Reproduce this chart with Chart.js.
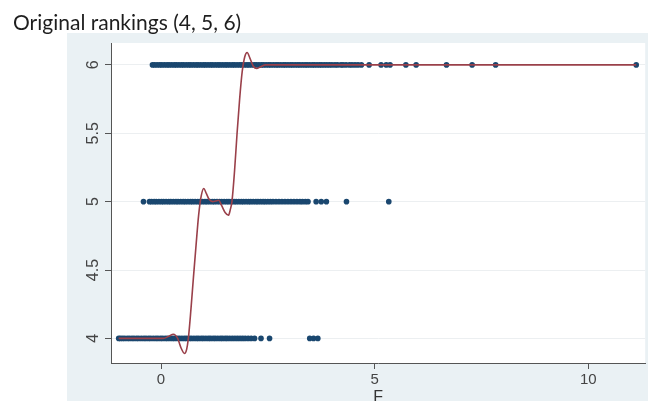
<!DOCTYPE html>
<html><head><meta charset="utf-8">
<script src="https://cdn.jsdelivr.net/npm/chart.js@4/dist/chart.umd.min.js"></script>
<style>html,body{margin:0;padding:0;background:#fff}canvas{display:block}</style>
</head><body>
<canvas id="c" width="648" height="401"></canvas>
<script>
// Rank levels (y values of the three rows)
const rankLevels = [4, 5, 6];

const fRank4 = [-0.99,-0.95,-0.90,-0.85,-0.79,-0.74,-0.68,-0.63,-0.57,-0.52,-0.46,-0.40,-0.35,-0.29,-0.24,-0.18,-0.12,-0.07,-0.01,0.04,0.10,0.15,0.21,0.27,0.32,0.38,0.43,0.49,0.55,0.60,0.66,0.71,0.77,0.83,0.88,0.94,0.99,1.05,1.11,1.16,1.22,1.27,1.33,1.39,1.44,1.50,1.55,1.61,1.67,1.73,1.79,1.85,1.91,1.97,2.04,2.11,2.19,2.34,2.54,3.48,3.57,3.67];
const fRank5 = [-0.41,-0.27,-0.22,-0.16,-0.11,-0.05,0.01,0.06,0.12,0.18,0.23,0.29,0.35,0.40,0.46,0.52,0.57,0.63,0.69,0.74,0.80,0.86,0.91,0.97,1.03,1.08,1.14,1.20,1.25,1.31,1.37,1.42,1.48,1.54,1.59,1.65,1.71,1.76,1.82,1.88,1.93,1.99,2.05,2.10,2.16,2.22,2.27,2.33,2.39,2.44,2.50,2.56,2.62,2.69,2.76,2.83,2.90,2.97,3.04,3.11,3.18,3.25,3.31,3.38,3.44,3.63,3.75,3.87,4.34,5.33];
const fRank6 = [-0.20,-0.15,-0.09,-0.03,0.02,0.08,0.14,0.19,0.25,0.31,0.36,0.42,0.48,0.53,0.59,0.65,0.70,0.76,0.82,0.87,0.93,0.99,1.04,1.10,1.16,1.21,1.27,1.33,1.38,1.44,1.50,1.55,1.61,1.67,1.72,1.78,1.84,1.89,1.95,2.01,2.06,2.12,2.18,2.23,2.29,2.35,2.40,2.46,2.52,2.57,2.63,2.69,2.74,2.80,2.86,2.91,2.97,3.03,3.08,3.14,3.20,3.25,3.31,3.37,3.42,3.48,3.54,3.59,3.65,3.71,3.76,3.82,3.88,3.94,4.00,4.07,4.13,4.21,4.26,4.33,4.41,4.47,4.54,4.61,4.69,4.87,5.15,5.27,5.36,5.73,5.97,6.68,7.28,7.83,11.12];

// Fitted curve (red line)
const fitX = [-0.99,-0.60,-0.20,0.05,0.18,0.29,0.39,0.47,0.55,0.60,0.64,0.70,0.76,0.82,0.88,0.94,1.00,1.06,1.13,1.21,1.28,1.35,1.42,1.50,1.58,1.62,1.66,1.72,1.78,1.84,1.90,1.96,2.015,2.08,2.16,2.24,2.32,2.45,2.70,3.50,6.00,11.12];
const fitY = [4.00,4.00,4.00,4.00,4.015,4.03,4.00,3.93,3.89,3.92,4.00,4.21,4.45,4.68,4.90,5.04,5.096,5.06,5.015,5.00,5.005,5.01,4.97,4.92,4.90,4.94,5.00,5.22,5.50,5.75,5.95,6.06,6.09,6.05,5.99,5.974,5.985,6.00,6.00,6.00,6.00,6.00];

// Tick labels
const xTicks = [0, 5, 10];
const yTicks = [4, 4.5, 5, 5.5, 6];

const rankRows = [fRank4, fRank5, fRank6];
const scatterPoints = [];
rankRows.forEach((xs, i) => xs.forEach(x => scatterPoints.push({x: x, y: rankLevels[i]})));
const fitPoints = fitX.map((x, i) => ({x: x, y: fitY[i]}));

const bgPlugin = {
  id: 'bg',
  beforeDraw(chart) {
    const {ctx, chartArea: a} = chart;
    ctx.save();
    ctx.fillStyle = '#ffffff';
    ctx.fillRect(0, 0, chart.width, chart.height);
    ctx.fillStyle = '#eaf1f4';
    ctx.fillRect(67, 33, chart.width - 67, chart.height - 33);
    ctx.fillStyle = '#ffffff';
    ctx.fillRect(a.left, a.top, a.right - a.left, a.bottom - a.top);
    ctx.restore();
  }
};

const axisFont = '"Liberation Sans", Arial, sans-serif';

new Chart(document.getElementById('c'), {
  type: 'scatter',
  data: {
    datasets: [
      {
        label: 'Fitted',
        data: fitPoints,
        showLine: true,
        borderColor: '#9a404a',
        borderWidth: 1.6,
        pointRadius: 0,
        fill: false,
        cubicInterpolationMode: 'monotone'
      },
      {
        label: 'Rank',
        data: scatterPoints,
        backgroundColor: '#1a476f',
        borderWidth: 0,
        pointRadius: 2.8,
        pointHoverRadius: 2.8
      }
    ]
  },
  options: {
    responsive: false,
    animation: false,
    devicePixelRatio: 1,
    layout: {padding: {left: 13, right: 2, top: 0, bottom: 0}},
    plugins: {
      legend: {display: false},
      tooltip: {enabled: false},
      title: {
        display: true,
        text: 'Original rankings (4, 5, 6)',
        align: 'start',
        color: '#1e1e1e',
        font: {family: 'Lato', size: 21, weight: 'normal', lineHeight: 1.2},
        padding: {top: 10.5, bottom: 7.3}
      }
    },
    scales: {
      x: {
        type: 'linear',
        position: 'bottom',
        min: -1.17,
        max: 11.33,
        afterBuildTicks: s => { s.ticks = xTicks.map(v => ({value: v})); },
        afterFit: s => { s.height = 38; },
        grid: {drawOnChartArea: false, drawTicks: true, tickLength: 6, tickColor: '#555', color: '#555'},
        border: {display: true, color: '#555', width: 1},
        ticks: {font: {family: axisFont, size: 15}, color: '#444', padding: 2, maxRotation: 0, autoSkip: false},
        title: {display: true, text: 'F', color: '#333', font: {family: axisFont, size: 16, lineHeight: 0.4}, padding: 0}
      },
      y: {
        type: 'linear',
        position: 'left',
        min: 3.82,
        max: 6.16,
        afterBuildTicks: s => { s.ticks = yTicks.map(v => ({value: v})); },
        afterFit: s => { s.width = 98; },
        grid: {color: '#eceff1', lineWidth: 1, drawTicks: true, tickLength: 6, tickColor: '#555'},
        border: {display: true, color: '#555', width: 1},
        ticks: {
          font: {family: axisFont, size: 16}, color: '#444', padding: 0,
          minRotation: 90, maxRotation: 90, crossAlign: 'center', autoSkip: false,
          callback: v => String(v)
        }
      }
    }
  },
  plugins: [bgPlugin]
});
</script>
</body></html>
